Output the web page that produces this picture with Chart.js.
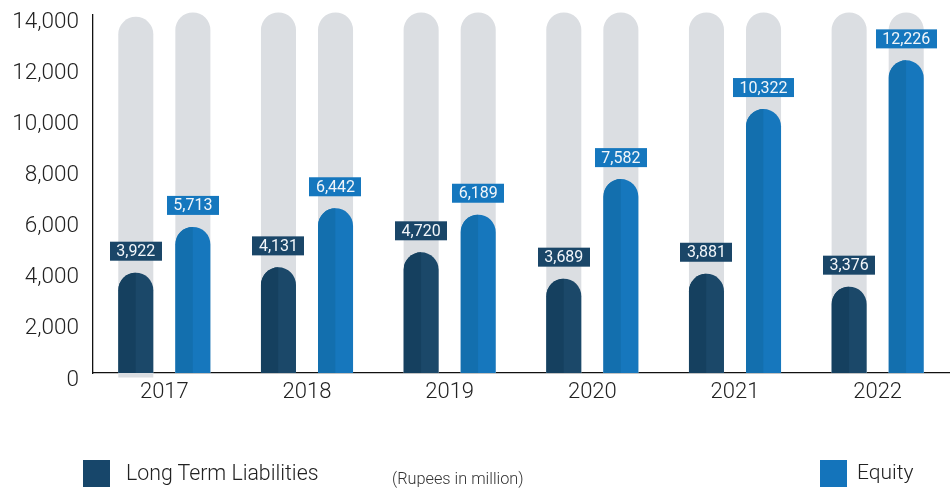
<!DOCTYPE html>
<html>
<head>
<meta charset="utf-8">
<script src="https://cdn.jsdelivr.net/npm/chart.js@4/dist/chart.umd.min.js"></script>
<style>
  html, body { margin: 0; padding: 0; background: #fff; }
  #wrap { position: relative; width: 950px; height: 488px; overflow: hidden; }
  canvas { position: absolute; left: 0; top: 0; }
  .leg { position: absolute; font-family: Roboto, sans-serif; font-weight: 300; color: #222; white-space: nowrap; line-height: 1; }
  .sq { position: absolute; width: 27px; height: 27px; }
</style>
</head>
<body>
<div id="wrap">
  <canvas id="c" width="950" height="488"></canvas>
  <div class="sq" style="left:83px; top:460px; background:#17466a;"></div>
  <div class="leg" style="left:126px; top:462px; font-size:21.3px;">Long Term Liabilities</div>
  <div class="leg" style="left:392px; top:471px; font-size:16.3px; color:#333;">(Rupees in million)</div>
  <div class="sq" style="left:820px; top:460px; background:#1474bb;"></div>
  <div class="leg" style="left:857px; top:462px; font-size:21px;">Equity</div>
</div>
<script>
const years = ['2017', '2018', '2019', '2020', '2021', '2022'];
const longTermLiabilities = [3922, 4131, 4720, 3689, 3881, 3376];
const equity = [5713, 6442, 6189, 7582, 10322, 12226];
const trackLeft = [[-180, 13930], [0, 14100], [0, 14100], [0, 14100], [0, 14100], [0, 14100]];
const trackRight = [[0, 14100], [0, 14100], [0, 14100], [0, 14100], [0, 14100], [0, 14100]];
const yTicks = [0, 2000, 4000, 6000, 8000, 10000, 12000, 14000];

const colors = {
  liabRight: '#1b4869', liabLeft: '#15405f', liabBox: '#1a4668',
  eqRight: '#1677bd', eqLeft: '#136fae', eqBox: '#1577be',
  track: '#dbdee2'
};

const twoTone = {
  id: 'twoTone',
  afterDatasetsDraw(chart) {
    const ctx = chart.ctx;
    const shades = [colors.liabLeft, colors.eqLeft];
    [0, 1].forEach(di => {
      const meta = chart.getDatasetMeta(di);
      meta.data.forEach(el => {
        const { x, y, base, width } = el.getProps(['x', 'y', 'base', 'width'], true);
        const r = width / 2;
        ctx.save();
        ctx.beginPath();
        ctx.rect(x - r, y - 2, r, base - y + 2);
        ctx.clip();
        ctx.beginPath();
        ctx.moveTo(x - r, base);
        ctx.lineTo(x - r, y + r);
        ctx.arc(x, y + r, r, Math.PI, 1.5 * Math.PI);
        ctx.lineTo(x, base);
        ctx.closePath();
        ctx.fillStyle = shades[di];
        ctx.fill();
        ctx.restore();
      });
    });
    // value labels
    const boxes = [colors.liabBox, colors.eqBox];
    ctx.save();
    ctx.font = '400 16px Roboto, sans-serif';
    ctx.textAlign = 'center';
    ctx.textBaseline = 'middle';
    [0, 1].forEach(di => {
      const meta = chart.getDatasetMeta(di);
      const ds = chart.data.datasets[di];
      meta.data.forEach((el, i) => {
        const { x, y } = el.getProps(['x', 'y'], true);
        const txt = ds.data[i].toLocaleString('en-US');
        const w = ctx.measureText(txt).width + 13;
        const h = 19;
        const bottom = y - 12;
        ctx.fillStyle = boxes[di];
        ctx.fillRect(Math.round(x - w / 2), bottom - h, Math.round(w), h);
        ctx.fillStyle = '#f2f6fa';
        ctx.fillText(txt, x, bottom - h / 2 + 1);
      });
    });
    ctx.restore();
  }
};

new Chart(document.getElementById('c'), {
  type: 'bar',
  data: {
    labels: years,
    datasets: [
      { label: 'Long Term Liabilities', data: longTermLiabilities, stack: 'L', backgroundColor: colors.liabRight,
        borderRadius: 100, borderSkipped: 'start' },
      { label: 'Equity', data: equity, stack: 'E', backgroundColor: colors.eqRight,
        borderRadius: 100, borderSkipped: 'start' },
      { label: 'trackL', data: trackLeft, stack: 'L', backgroundColor: colors.track,
        borderRadius: 100, borderSkipped: 'start', clip: false },
      { label: 'trackR', data: trackRight, stack: 'E', backgroundColor: colors.track,
        borderRadius: 100, borderSkipped: 'start', clip: false }
    ]
  },
  options: {
    responsive: false,
    animation: false,
    devicePixelRatio: 1,
    categoryPercentage: 0.8,
    barPercentage: 0.614,
    layout: { padding: { top: 15, right: 1, left: 0, bottom: 0 } },
    plugins: { legend: { display: false }, tooltip: { enabled: false } },
    scales: {
      x: {
        grid: { display: false, drawTicks: false },
        border: { display: true, color: '#111', width: 1.3 },
        ticks: { color: '#222', padding: 6, font: { family: 'Roboto', weight: 300, size: 22 } },
        afterFit(scale) { scale.height = 115; scale.paddingLeft = 0; scale.paddingRight = 0; }
      },
      y: {
        min: 0, max: 14000, stacked: false,
        grid: { display: false, drawTicks: false },
        border: { display: true, color: '#111', width: 1.3 },
        afterBuildTicks(scale) { scale.ticks = yTicks.map(v => ({ value: v })); },
        ticks: {
          color: '#222', padding: 14, labelOffset: 7,
          font: { family: 'Roboto', weight: 300, size: 22.5 },
          callback: v => Number(v).toLocaleString('en-US')
        },
        afterFit(scale) { scale.width = 93; scale.paddingTop = 0; scale.paddingBottom = 0; }
      }
    }
  },
  plugins: [twoTone]
});
</script>
</body>
</html>
